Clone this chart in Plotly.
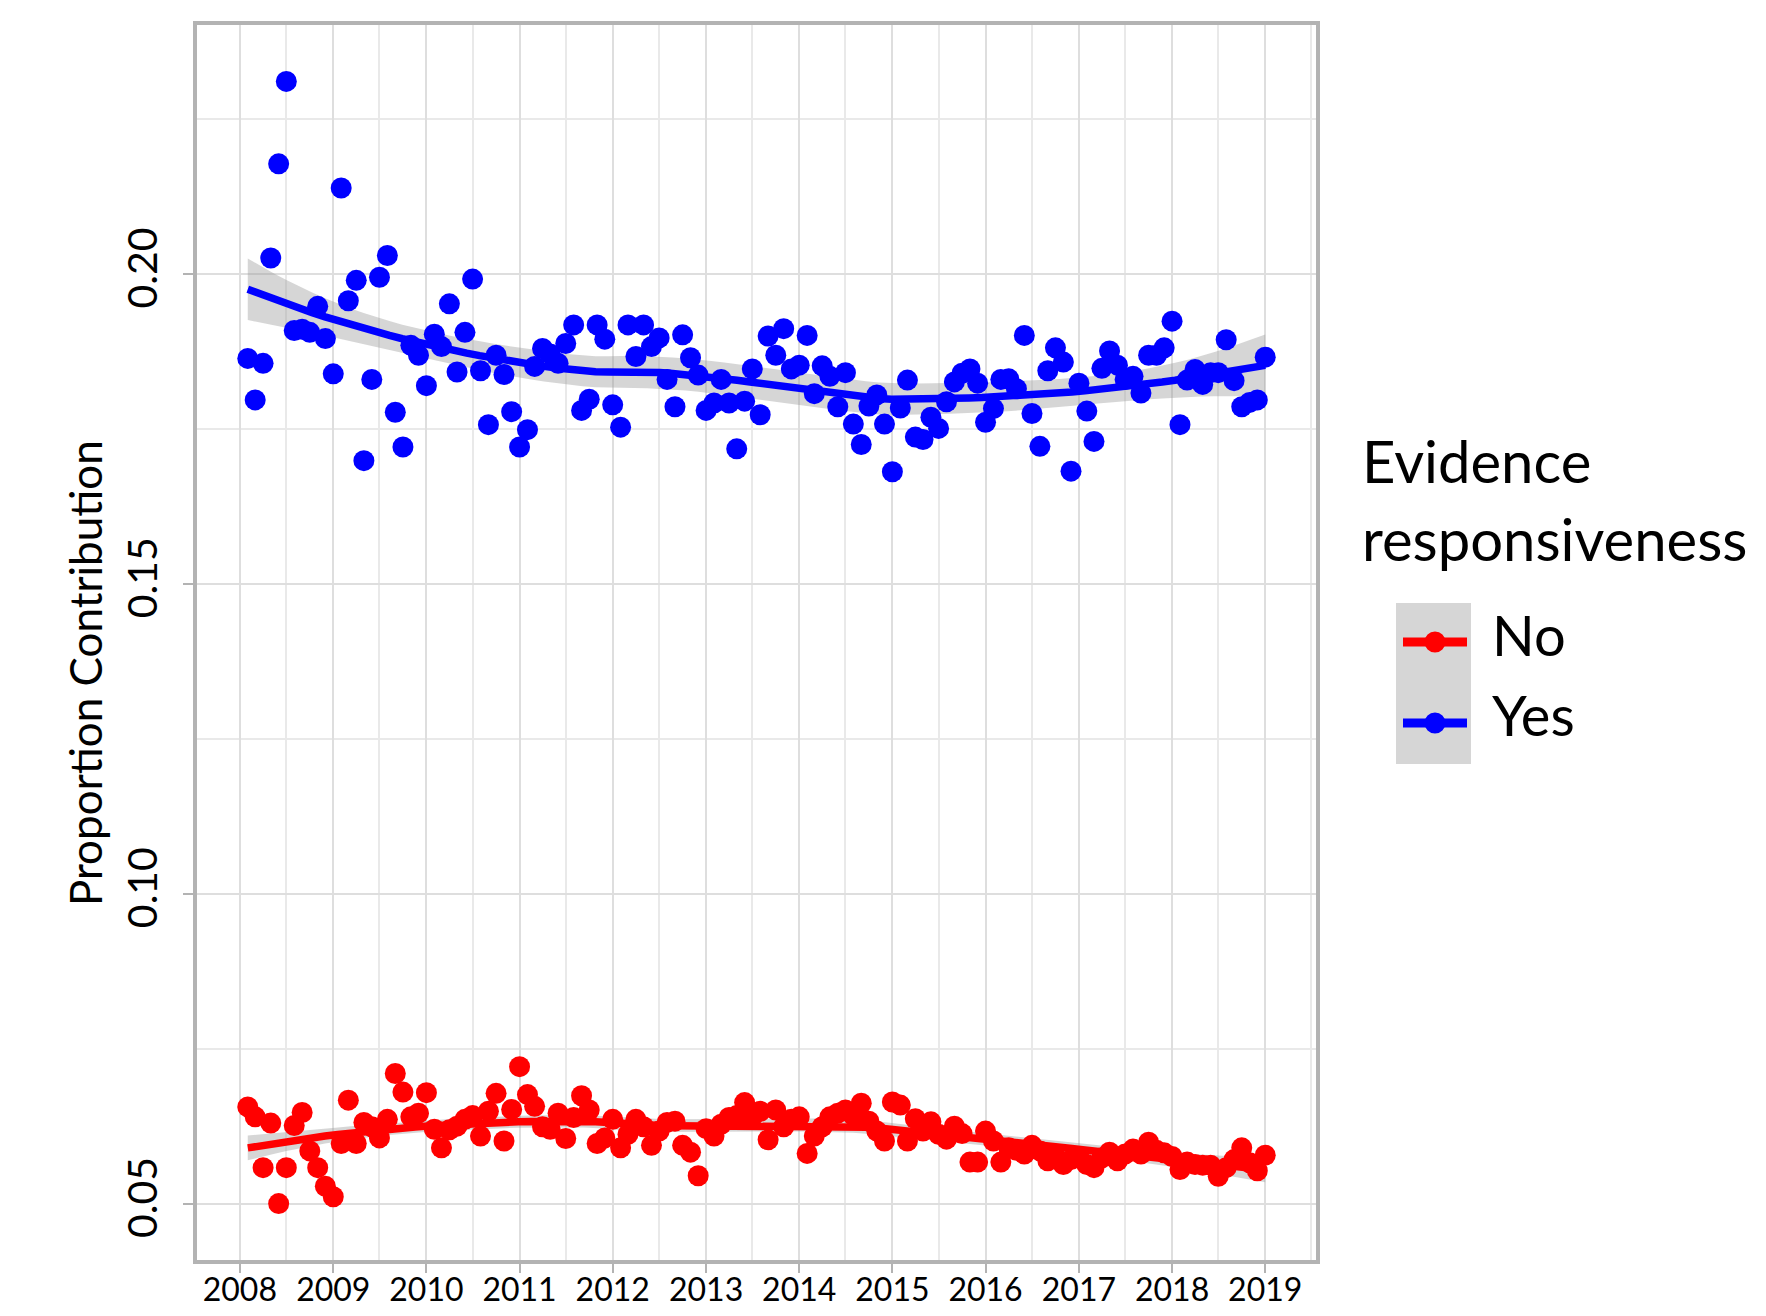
import numpy as np
import pandas as pd
import plotly.graph_objects as go

# ---------------- data (monthly, Feb 2008 - Jan 2019) ----------------
months = pd.date_range(start="2008-02-01", periods=132, freq="MS")

yes_values = [
    0.1864, 0.1797, 0.1856, 0.2026, 0.2178, 0.2311, 0.1909, 0.1911, 0.1906, 0.1948,
    0.1896, 0.1839, 0.2139, 0.1957, 0.1990, 0.1699, 0.1830, 0.1995, 0.2030, 0.1777,
    0.1721, 0.1885, 0.1869, 0.1820, 0.1903, 0.1883, 0.1952, 0.1842, 0.1906, 0.1992,
    0.1844, 0.1757, 0.1869, 0.1838, 0.1778, 0.1721, 0.1749, 0.1851, 0.1880, 0.1871,
    0.1856, 0.1888, 0.1918, 0.1780, 0.1798, 0.1918, 0.1895, 0.1789, 0.1753, 0.1918,
    0.1867, 0.1918, 0.1883, 0.1897, 0.1830, 0.1786, 0.1902, 0.1865, 0.1837, 0.1780,
    0.1792, 0.1830, 0.1792, 0.1718, 0.1795, 0.1847, 0.1773, 0.1900, 0.1869, 0.1912,
    0.1847, 0.1853, 0.1901, 0.1807, 0.1852, 0.1835, 0.1786, 0.1841, 0.1758, 0.1725,
    0.1787, 0.1805, 0.1758, 0.1681, 0.1784, 0.1829, 0.1737, 0.1733, 0.1769, 0.1751,
    0.1794, 0.1826, 0.1840, 0.1847, 0.1824, 0.1761, 0.1783, 0.1830, 0.1831, 0.1815,
    0.1901, 0.1775, 0.1722, 0.1844, 0.1881, 0.1858, 0.1682, 0.1824, 0.1779, 0.1730,
    0.1848, 0.1876, 0.1853, 0.1830, 0.1835, 0.1808, 0.1869, 0.1869, 0.1881, 0.1924,
    0.1757, 0.1829, 0.1846, 0.1822, 0.1841, 0.1841, 0.1894, 0.1828, 0.1786, 0.1793,
    0.1797, 0.1866,
]

no_values = [
    0.0656, 0.0640, 0.0558, 0.0630, 0.0500, 0.0558, 0.0626, 0.0647, 0.0585, 0.0558,
    0.0528, 0.0511, 0.0597, 0.0667, 0.0597, 0.0631, 0.0624, 0.0606, 0.0636, 0.0710,
    0.0680, 0.0640, 0.0646, 0.0679, 0.0620, 0.0590, 0.0619, 0.0625, 0.0636, 0.0642,
    0.0609, 0.0649, 0.0678, 0.0601, 0.0652, 0.0721, 0.0676, 0.0657, 0.0624, 0.0620,
    0.0646, 0.0605, 0.0639, 0.0674, 0.0651, 0.0597, 0.0606, 0.0636, 0.0590, 0.0612,
    0.0636, 0.0624, 0.0594, 0.0617, 0.0631, 0.0633, 0.0594, 0.0583, 0.0545, 0.0621,
    0.0609, 0.0628, 0.0639, 0.0642, 0.0663, 0.0640, 0.0649, 0.0603, 0.0651, 0.0624,
    0.0636, 0.0640, 0.0581, 0.0609, 0.0624, 0.0640, 0.0646, 0.0651, 0.0642, 0.0662,
    0.0633, 0.0617, 0.0601, 0.0664, 0.0659, 0.0601, 0.0637, 0.0617, 0.0632, 0.0612,
    0.0604, 0.0625, 0.0613, 0.0567, 0.0567, 0.0617, 0.0601, 0.0567, 0.0590, 0.0586,
    0.0580, 0.0594, 0.0585, 0.0569, 0.0576, 0.0563, 0.0571, 0.0574, 0.0563, 0.0558,
    0.0574, 0.0583, 0.0569, 0.0580, 0.0588, 0.0580, 0.0599, 0.0586, 0.0582, 0.0576,
    0.0555, 0.0567, 0.0563, 0.0562, 0.0562, 0.0544, 0.0558, 0.0571, 0.0590, 0.0566,
    0.0553, 0.0578,
]

y_tick_vals = [0.05, 0.10, 0.15, 0.20]
y_tick_text = ["0.05", "0.10", "0.15", "0.20"]
y_minor_vals = [0.075, 0.125, 0.175, 0.225]

series_names = ["No", "Yes"]
series_colors = {"No": "#ff0000", "Yes": "#0000ff"}
legend_title = ["Evidence", "responsiveness"]
y_title = "Proportion Contribution"

FONT = "Lato"

# ---------------- loess (degree 2, span 0.75) like geom_smooth ----------------
base = pd.Timestamp("2008-01-01")
def to_years(dates):
    return np.asarray((pd.DatetimeIndex(dates) - base).days, dtype=float) / 365.25

def loess(x, y, xs, span=0.75):
    n = len(x)
    q = int(np.floor(n * span))
    def row(x0):
        d = np.abs(x - x0)
        h = np.sort(d)[q - 1]
        u = np.clip(d / h, 0, 1)
        w = (1 - u ** 3) ** 3
        X = np.vstack([np.ones(n), x - x0, (x - x0) ** 2]).T
        XtW = X.T * w
        return np.linalg.solve(XtW @ X, XtW)[0]
    L = np.array([row(v) for v in x])
    res = y - L @ y
    IL = np.eye(n) - L
    M = IL.T @ IL
    d1 = np.trace(M)
    sigma = np.sqrt(np.sum(res ** 2) / d1)
    Ls = np.array([row(v) for v in xs])
    fit = Ls @ y
    se = sigma * np.sqrt(np.sum(Ls ** 2, axis=1))
    t = 1.979
    return fit, fit - t * se, fit + t * se

xyrs = to_years(months)
xs = np.linspace(xyrs.min(), xyrs.max(), 80)
xs_dates = base + pd.to_timedelta(xs * 365.25, unit="D")

fig = go.Figure()

data = {"No": np.array(no_values), "Yes": np.array(yes_values)}
fits = {name: loess(xyrs, data[name], xs) for name in series_names}
for name in series_names:
    fit, lo, hi = fits[name]
    fig.add_trace(go.Scatter(
        x=list(xs_dates) + list(xs_dates[::-1]),
        y=list(hi) + list(lo[::-1]),
        fill="toself", fillcolor="rgba(153,153,153,0.4)",
        line=dict(width=0), mode="lines", hoverinfo="skip", showlegend=False))
for name in series_names:
    fig.add_trace(go.Scatter(
        x=months, y=data[name], mode="markers",
        marker=dict(size=21, color=series_colors[name], line=dict(width=0)),
        name=name, showlegend=False))
for name in series_names:
    fit, lo, hi = fits[name]
    fig.add_trace(go.Scatter(
        x=xs_dates, y=fit, mode="lines",
        line=dict(color=series_colors[name], width=7.5),
        showlegend=False, hoverinfo="skip"))

# ---------------- layout ----------------
# the page body adds an 8px margin; work in window pixels and subtract it
OFF = 8
W, H = 1766 - 2 * OFF, 1316 - 2 * OFF
L_, R_, T_, B_ = 197, 1316, 25, 1260   # panel edges in window pixels

def px(xp):
    return (xp - L_) / (R_ - L_)
def py(yp):
    return (B_ - yp) / (B_ - T_)

grid_major = "#dedede"
grid_minor = "#e9e9e9"
border = "#b3b3b3"

fig.update_layout(
    width=W, height=H,
    margin=dict(l=L_ - OFF, r=(1766 - OFF) - R_, t=T_ - OFF, b=(1316 - OFF) - B_,
                pad=0, autoexpand=False),
    plot_bgcolor="white", paper_bgcolor="white",
    font=dict(family=FONT, color="black"),
    showlegend=False,
)
fig.update_xaxes(
    type="date", automargin=False,
    range=["2007-07-17", "2019-07-19"],
    tick0="2008-01-01", dtick="M12", tickformat="%Y",
    showgrid=True, gridcolor=grid_major, gridwidth=2,
    minor=dict(dtick="M6", showgrid=True, gridcolor=grid_minor, gridwidth=1.5),
    showline=True, mirror=True, linecolor=border, linewidth=4,
    ticks="outside", ticklen=9, tickcolor=border, tickwidth=2,
    tickfont=dict(size=32, color="black", family=FONT),
    ticklabelstandoff=-10,
    zeroline=False,
)
fig.update_yaxes(
    automargin=False,
    range=[0.0409, 0.2402],
    tickvals=y_tick_vals, ticktext=y_tick_text, tickangle=-90,
    showgrid=True, gridcolor=grid_major, gridwidth=2,
    minor=dict(tickvals=y_minor_vals, showgrid=True, gridcolor=grid_minor, gridwidth=1.5, ticks=""),
    showline=True, mirror=True, linecolor=border, linewidth=4,
    ticks="outside", ticklen=10, tickcolor=border, tickwidth=2,
    tickfont=dict(size=41, color="black", family=FONT),
    ticklabelstandoff=10,
    zeroline=False,
)

annotations = [
    dict(text=y_title, x=px(85), y=py(673), xref="paper", yref="paper",
         textangle=-90, showarrow=False, xanchor="center", yanchor="middle",
         font=dict(size=44, family=FONT, color="black")),
    dict(text=legend_title[0], x=px(1360), y=py(460), xref="paper", yref="paper",
         showarrow=False, xanchor="left", yanchor="middle",
         font=dict(size=58, family=FONT, color="black")),
    dict(text=legend_title[1], x=px(1360), y=py(538), xref="paper", yref="paper",
         showarrow=False, xanchor="left", yanchor="middle",
         font=dict(size=58, family=FONT, color="black")),
]
shapes = [
    dict(type="rect", xref="paper", yref="paper", x0=px(1396), x1=px(1471),
         y0=py(764), y1=py(603), fillcolor="#d6d6d6", line=dict(width=0), layer="above"),
]
key_y = {"No": 642, "Yes": 723}
for name in series_names:
    yk = key_y[name]
    shapes.append(dict(type="line", xref="paper", yref="paper",
                       x0=px(1403), x1=px(1467), y0=py(yk), y1=py(yk),
                       line=dict(color=series_colors[name], width=9), layer="above"))
    shapes.append(dict(type="circle", xref="paper", yref="paper",
                       x0=px(1435 - 10.5), x1=px(1435 + 10.5),
                       y0=py(yk + 10.5), y1=py(yk - 10.5),
                       fillcolor=series_colors[name], line=dict(width=0), layer="above"))
    annotations.append(dict(text=name, x=px(1490), y=py(yk - 8), xref="paper", yref="paper",
                            showarrow=False, xanchor="left", yanchor="middle",
                            font=dict(size=56, family=FONT, color="black")))

fig.update_layout(annotations=annotations, shapes=shapes)
fig.write_html("out.html")
